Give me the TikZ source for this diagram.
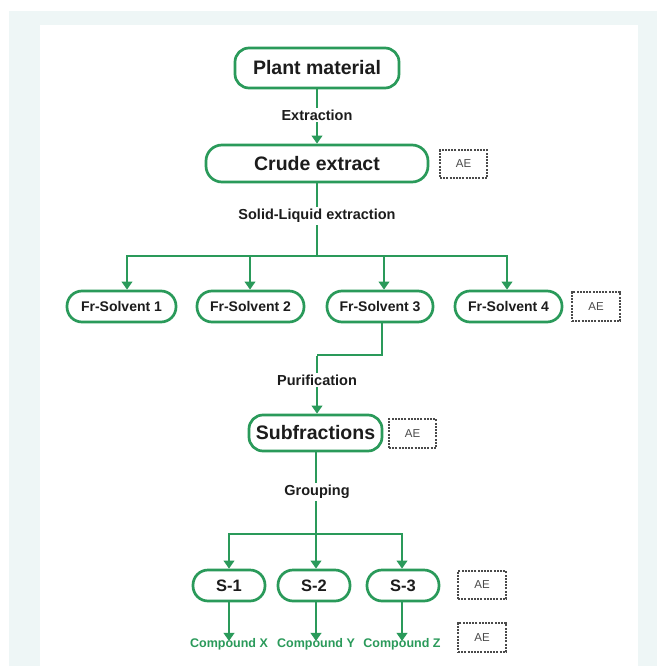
\documentclass[tikz,border=0pt]{standalone}
\usepackage{fontspec}
\setmainfont{Liberation Sans}
\usetikzlibrary{arrows.meta}
\definecolor{flowgreen}{HTML}{2A9A5A}
\definecolor{panelbg}{HTML}{EEF6F6}
\definecolor{aegray}{HTML}{4A4A4A}
\definecolor{ink}{HTML}{1C1C1C}
\tikzset{
  procbox/.style={draw=flowgreen, line width=2.7pt, rounded corners=14pt, fill=white,
    inner sep=0pt, align=center, font=\bfseries, text=ink},
  aebox/.style={draw=aegray, line width=1.3pt, dash pattern=on 2pt off 1.2pt, fill=white,
    inner sep=0pt, minimum width=47pt, minimum height=28pt, font=\fontsize{11.5}{13}\selectfont, text=aegray},
  steplabel/.style={fill=white, inner sep=2pt, font=\fontsize{14.5}{16}\selectfont\bfseries, text=ink},
  compound/.style={inner sep=0pt, font=\fontsize{12.5}{14}\selectfont\bfseries, text=flowgreen},
  link/.style={draw=flowgreen, line width=2.6pt},
  arrowlink/.style={link, -{Triangle[length=8pt,width=10.5pt]}},
}
\begin{document}
\begin{tikzpicture}[x=1pt,y=-1pt]
  % background
  \useasboundingbox (0,0) rectangle (657,666);
  \fill[white] (0,0) rectangle (657,666);
  \fill[panelbg] (9,11) rectangle (657,666);
  \fill[white] (40,25) rectangle (638,666);

  % main nodes
  \node[procbox, minimum width=164pt, minimum height=40pt, font=\fontsize{19.5}{22}\selectfont\bfseries] (plant) at (317,68) {Plant material};
  \node[procbox, minimum width=222pt, minimum height=37pt, rounded corners=16pt, font=\fontsize{19.5}{22}\selectfont\bfseries] (crude) at (317,163.5) {Crude extract};
  \node[aebox] (ae1) at (463.5,164) {AE};

  \node[procbox, minimum width=109pt, minimum height=31pt, rounded corners=15pt, font=\fontsize{14}{16}\selectfont\bfseries] (fs1) at (121.5,306.5) {Fr-Solvent 1};
  \node[procbox, minimum width=107pt, minimum height=31pt, rounded corners=15pt, font=\fontsize{14}{16}\selectfont\bfseries] (fs2) at (250.5,306.5) {Fr-Solvent 2};
  \node[procbox, minimum width=106pt, minimum height=31pt, rounded corners=15pt, font=\fontsize{14}{16}\selectfont\bfseries] (fs3) at (380,306.5) {Fr-Solvent 3};
  \node[procbox, minimum width=107pt, minimum height=31pt, rounded corners=15pt, font=\fontsize{14}{16}\selectfont\bfseries] (fs4) at (508.5,306.5) {Fr-Solvent 4};
  \node[aebox, minimum width=48pt, minimum height=29pt] (ae2) at (596,306.5) {AE};

  \node[procbox, minimum width=133pt, minimum height=36pt, font=\fontsize{19.5}{22}\selectfont\bfseries] (sub) at (315.5,433) {Subfractions};
  \node[aebox, minimum height=29pt] (ae3) at (412.5,433.5) {AE};

  \node[procbox, minimum width=72pt, minimum height=31pt, rounded corners=15pt, font=\fontsize{16.5}{18}\selectfont\bfseries] (s1) at (229,585.5) {S-1};
  \node[procbox, minimum width=72pt, minimum height=31pt, rounded corners=15pt, font=\fontsize{16.5}{18}\selectfont\bfseries] (s2) at (314,585.5) {S-2};
  \node[procbox, minimum width=72pt, minimum height=31pt, rounded corners=15pt, font=\fontsize{16.5}{18}\selectfont\bfseries] (s3) at (403,585.5) {S-3};
  \node[aebox, minimum width=48pt] (ae4) at (482,585) {AE};

  \node[compound] (cx) at (229,644) {Compound X};
  \node[compound] (cy) at (316,644) {Compound Y};
  \node[compound] (cz) at (402,644) {Compound Z};
  \node[aebox, minimum width=48pt, minimum height=29pt] (ae5) at (482,637.5) {AE};

  % junction coordinates
  \coordinate (bar) at (317,256);
  \coordinate (a1) at (127,256);
  \coordinate (a2) at (250,256);
  \coordinate (a3) at (384,256);
  \coordinate (a4) at (507,256);
  \coordinate (fs3down) at (382,355);
  \coordinate (turn) at (317,355);
  \coordinate (gbar) at (316,534);
  \coordinate (g1) at (229,534);
  \coordinate (g3) at (402,534);

  % connectors
  \draw[arrowlink] (plant.south) -- (crude.north);
  \node[steplabel] (ext) at (317,115) {Extraction};

  \draw[link] (crude.south) -- (bar);
  \node[steplabel] (sle) at (317,216) {Solid-Liquid extraction};
  \draw[link, line cap=rect] (a1) -- (a4);
  \draw[arrowlink] (a1) -- (a1 |- fs1.north);
  \draw[arrowlink] (a2) -- (a2 |- fs2.north);
  \draw[arrowlink] (a3) -- (a3 |- fs3.north);
  \draw[arrowlink] (a4) -- (a4 |- fs4.north);

  \draw[link, line join=miter] (fs3down |- fs3.south) -- (fs3down) -- (turn);
  \draw[arrowlink] ([yshift=-1.3pt]turn) -- (turn |- sub.north);
  \node[steplabel] (pur) at (317,380) {Purification};

  \draw[link] (gbar |- sub.south) -- (gbar);
  \node[steplabel] (grp) at (317,492) {Grouping};
  \draw[link, line cap=rect] (g1) -- (g3);
  \draw[arrowlink] (g1) -- (g1 |- s1.north);
  \draw[arrowlink] (gbar) -- (gbar |- s2.north);
  \draw[arrowlink] (g3) -- (g3 |- s3.north);

  \draw[arrowlink] (s1.south -| cx) -- ([yshift=-3pt]cx.north);
  \draw[arrowlink] (s2.south -| cy) -- ([yshift=-3pt]cy.north);
  \draw[arrowlink] (s3.south -| cz) -- ([yshift=-3pt]cz.north);
\end{tikzpicture}
\end{document}
